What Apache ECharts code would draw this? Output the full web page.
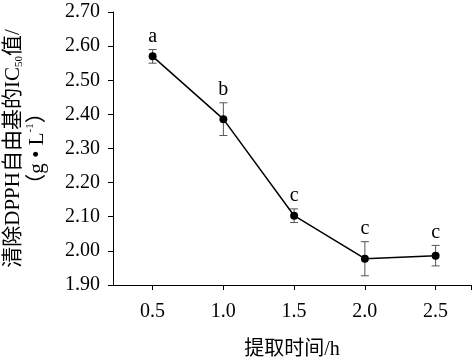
<!DOCTYPE html>
<html><head><meta charset="utf-8">
<script src="https://cdn.jsdelivr.net/npm/echarts@6/dist/echarts.min.js"></script>
<style>html,body{margin:0;padding:0;background:#fff}#c{width:473px;height:362px}</style>
</head><body><div id="c"></div>
<script>
const times = [0.5, 1.0, 1.5, 2.0, 2.5];
const ic50 = [2.570, 2.386, 2.103, 1.977, 1.986];
const errs = [0.020, 0.048, 0.020, 0.050, 0.030];
const letters = ['a', 'b', 'c', 'c', 'c'];
const xTicks = [0.5, 1.0, 1.5, 2.0, 2.5];
const FONT = '"Liberation Serif","Times New Roman","Noto Sans CJK SC",serif';
const chart = echarts.init(document.getElementById('c'));
const lineData = times.map((t, i) => [t, ic50[i]]);
const errData = times.map((t, i) => [t, ic50[i], errs[i], i]);
chart.setOption({
  animation: false,
  grid: {left: 113, right: 2, top: 12, bottom: 77, outerBoundsMode: 'none', containLabel: false},
  xAxis: {
    type: 'value', min: 0.22, max: 2.75,
    axisLine: {lineStyle: {color: '#000', width: 1}},
    axisTick: {show: true, length: 5, inside: false, customValues: xTicks.concat([2.75]), lineStyle: {color: '#000'}},
    axisLabel: {customValues: xTicks, formatter: v => v.toFixed(1), color: '#000', fontFamily: FONT, fontSize: 20, margin: 17},
    splitLine: {show: false},
    name: '提取时间/h', nameLocation: 'middle', nameGap: 55,
    nameTextStyle: {color: '#000', fontFamily: FONT, fontSize: 20}
  },
  yAxis: {
    type: 'value', min: 1.9, max: 2.7, interval: 0.1,
    axisLine: {show: true, lineStyle: {color: '#000', width: 1}},
    axisTick: {show: true, length: 5, inside: false, lineStyle: {color: '#000'}},
    axisLabel: {formatter: v => v.toFixed(2), color: '#000', fontFamily: FONT, fontSize: 20, margin: 13},
    splitLine: {show: false},
    name: '{a|清除DPPH自由基的IC}{s|50}{a|值/}\n{a|（g • L}{p|-1}{a|）}',
    nameLocation: 'middle', nameRotate: 90, nameGap: 64,
    nameTextStyle: {
      color: '#000', fontFamily: FONT, fontSize: 21, lineHeight: 24,
      rich: {
        a: {fontFamily: FONT, fontSize: 21, color: '#000', lineHeight: 24},
        s: {fontFamily: FONT, fontSize: 11, color: '#000', verticalAlign: 'bottom', lineHeight: 14},
        p: {fontFamily: FONT, fontSize: 11, color: '#000', verticalAlign: 'top', lineHeight: 14}
      }
    }
  },
  series: [
    {
      type: 'line', data: lineData, symbol: 'circle', symbolSize: 8,
      lineStyle: {color: '#000', width: 1.5}, itemStyle: {color: '#000'}, z: 3
    },
    {
      type: 'custom', data: errData, z: 2,
      renderItem: function (params, api) {
        const x = api.value(0), y = api.value(1), e = api.value(2);
        const idx = api.value(3);
        const top = api.coord([x, y + e]);
        const bot = api.coord([x, y - e]);
        const w = 4;
        const st = {stroke: '#555', lineWidth: 1};
        return {type: 'group', children: [
          {type: 'line', shape: {x1: top[0], y1: top[1], x2: bot[0], y2: bot[1]}, style: st},
          {type: 'line', shape: {x1: top[0] - w, y1: top[1], x2: top[0] + w, y2: top[1]}, style: st},
          {type: 'line', shape: {x1: bot[0] - w, y1: bot[1], x2: bot[0] + w, y2: bot[1]}, style: st},
          {type: 'text', x: top[0], y: top[1] - 3, style: {text: letters[idx], fill: '#000', font: '20px ' + FONT, align: 'center', verticalAlign: 'bottom'}}
        ]};
      }
    }
  ]
});
</script></body></html>
